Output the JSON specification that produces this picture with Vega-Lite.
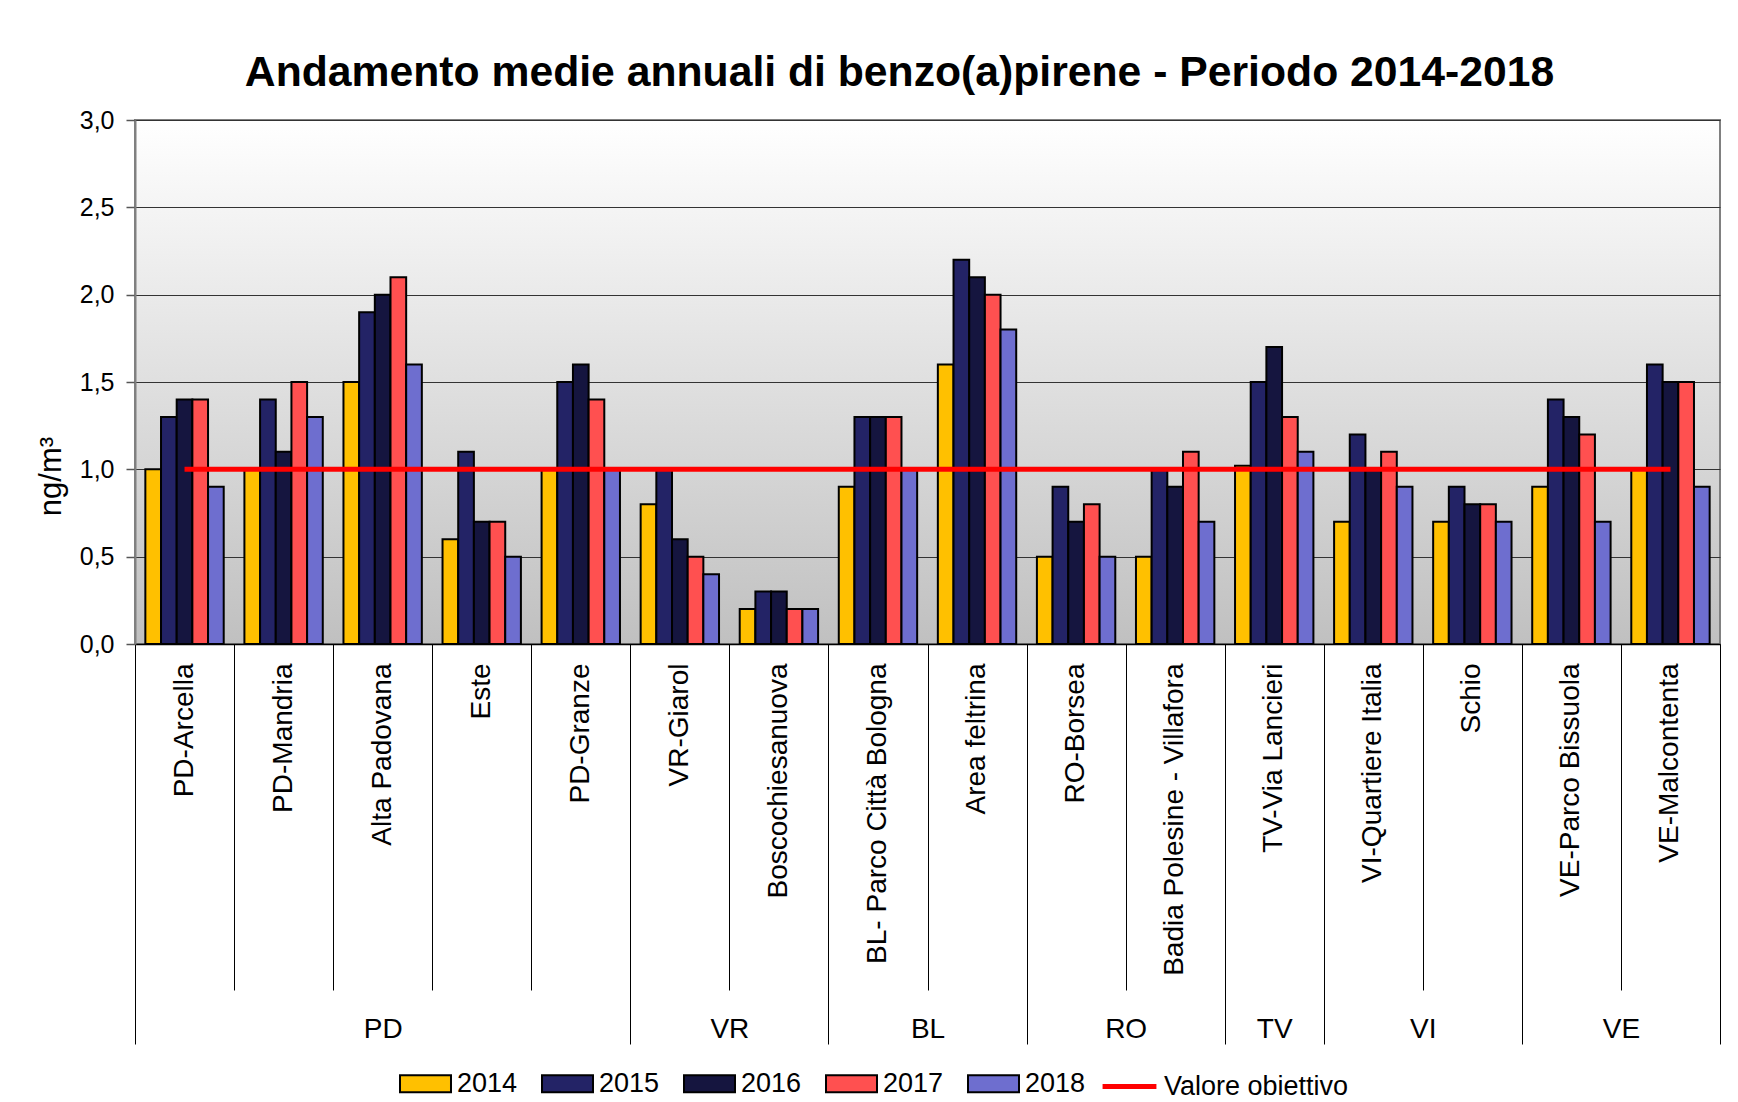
{
  "$schema": "https://vega.github.io/schema/vega-lite/v6.json",
  "width": 1585,
  "height": 524,
  "autosize": {"type": "none"},
  "padding": {"left": 135, "top": 120, "right": 18, "bottom": 458},
  "background": "white",
  "config": {
    "font": "Liberation Sans",
    "view": {
      "fill": {"gradient": "linear", "x1": 0, "y1": 0, "x2": 0, "y2": 1,
        "stops": [{"offset": 0, "color": "#FFFFFF"}, {"offset": 1, "color": "#C0C0C0"}]},
      "stroke": "#808080",
      "strokeWidth": 2
    }
  },
  "title": {
    "text": "Andamento medie annuali di benzo(a)pirene - Periodo 2014-2018",
    "font": "Liberation Sans",
    "fontSize": 42.7,
    "fontWeight": "bold",
    "color": "black",
    "anchor": "middle",
    "frame": "group",
    "offset": 13,
    "dx": -28
  },
  "datasets": {
    "misure": [
      {"stazione": "PD-Arcella", "anno": "2014", "valore": 1.0},
      {"stazione": "PD-Arcella", "anno": "2015", "valore": 1.3},
      {"stazione": "PD-Arcella", "anno": "2016", "valore": 1.4},
      {"stazione": "PD-Arcella", "anno": "2017", "valore": 1.4},
      {"stazione": "PD-Arcella", "anno": "2018", "valore": 0.9},
      {"stazione": "PD-Mandria", "anno": "2014", "valore": 1.0},
      {"stazione": "PD-Mandria", "anno": "2015", "valore": 1.4},
      {"stazione": "PD-Mandria", "anno": "2016", "valore": 1.1},
      {"stazione": "PD-Mandria", "anno": "2017", "valore": 1.5},
      {"stazione": "PD-Mandria", "anno": "2018", "valore": 1.3},
      {"stazione": "Alta Padovana", "anno": "2014", "valore": 1.5},
      {"stazione": "Alta Padovana", "anno": "2015", "valore": 1.9},
      {"stazione": "Alta Padovana", "anno": "2016", "valore": 2.0},
      {"stazione": "Alta Padovana", "anno": "2017", "valore": 2.1},
      {"stazione": "Alta Padovana", "anno": "2018", "valore": 1.6},
      {"stazione": "Este", "anno": "2014", "valore": 0.6},
      {"stazione": "Este", "anno": "2015", "valore": 1.1},
      {"stazione": "Este", "anno": "2016", "valore": 0.7},
      {"stazione": "Este", "anno": "2017", "valore": 0.7},
      {"stazione": "Este", "anno": "2018", "valore": 0.5},
      {"stazione": "PD-Granze", "anno": "2014", "valore": 1.0},
      {"stazione": "PD-Granze", "anno": "2015", "valore": 1.5},
      {"stazione": "PD-Granze", "anno": "2016", "valore": 1.6},
      {"stazione": "PD-Granze", "anno": "2017", "valore": 1.4},
      {"stazione": "PD-Granze", "anno": "2018", "valore": 1.0},
      {"stazione": "VR-Giarol", "anno": "2014", "valore": 0.8},
      {"stazione": "VR-Giarol", "anno": "2015", "valore": 1.0},
      {"stazione": "VR-Giarol", "anno": "2016", "valore": 0.6},
      {"stazione": "VR-Giarol", "anno": "2017", "valore": 0.5},
      {"stazione": "VR-Giarol", "anno": "2018", "valore": 0.4},
      {"stazione": "Boscochiesanuova", "anno": "2014", "valore": 0.2},
      {"stazione": "Boscochiesanuova", "anno": "2015", "valore": 0.3},
      {"stazione": "Boscochiesanuova", "anno": "2016", "valore": 0.3},
      {"stazione": "Boscochiesanuova", "anno": "2017", "valore": 0.2},
      {"stazione": "Boscochiesanuova", "anno": "2018", "valore": 0.2},
      {"stazione": "BL- Parco Città Bologna", "anno": "2014", "valore": 0.9},
      {"stazione": "BL- Parco Città Bologna", "anno": "2015", "valore": 1.3},
      {"stazione": "BL- Parco Città Bologna", "anno": "2016", "valore": 1.3},
      {"stazione": "BL- Parco Città Bologna", "anno": "2017", "valore": 1.3},
      {"stazione": "BL- Parco Città Bologna", "anno": "2018", "valore": 1.0},
      {"stazione": "Area feltrina", "anno": "2014", "valore": 1.6},
      {"stazione": "Area feltrina", "anno": "2015", "valore": 2.2},
      {"stazione": "Area feltrina", "anno": "2016", "valore": 2.1},
      {"stazione": "Area feltrina", "anno": "2017", "valore": 2.0},
      {"stazione": "Area feltrina", "anno": "2018", "valore": 1.8},
      {"stazione": "RO-Borsea", "anno": "2014", "valore": 0.5},
      {"stazione": "RO-Borsea", "anno": "2015", "valore": 0.9},
      {"stazione": "RO-Borsea", "anno": "2016", "valore": 0.7},
      {"stazione": "RO-Borsea", "anno": "2017", "valore": 0.8},
      {"stazione": "RO-Borsea", "anno": "2018", "valore": 0.5},
      {"stazione": "Badia Polesine - Villafora", "anno": "2014", "valore": 0.5},
      {"stazione": "Badia Polesine - Villafora", "anno": "2015", "valore": 1.0},
      {"stazione": "Badia Polesine - Villafora", "anno": "2016", "valore": 0.9},
      {"stazione": "Badia Polesine - Villafora", "anno": "2017", "valore": 1.1},
      {"stazione": "Badia Polesine - Villafora", "anno": "2018", "valore": 0.7},
      {"stazione": "TV-Via Lancieri", "anno": "2014", "valore": 1.02},
      {"stazione": "TV-Via Lancieri", "anno": "2015", "valore": 1.5},
      {"stazione": "TV-Via Lancieri", "anno": "2016", "valore": 1.7},
      {"stazione": "TV-Via Lancieri", "anno": "2017", "valore": 1.3},
      {"stazione": "TV-Via Lancieri", "anno": "2018", "valore": 1.1},
      {"stazione": "VI-Quartiere Italia", "anno": "2014", "valore": 0.7},
      {"stazione": "VI-Quartiere Italia", "anno": "2015", "valore": 1.2},
      {"stazione": "VI-Quartiere Italia", "anno": "2016", "valore": 1.0},
      {"stazione": "VI-Quartiere Italia", "anno": "2017", "valore": 1.1},
      {"stazione": "VI-Quartiere Italia", "anno": "2018", "valore": 0.9},
      {"stazione": "Schio", "anno": "2014", "valore": 0.7},
      {"stazione": "Schio", "anno": "2015", "valore": 0.9},
      {"stazione": "Schio", "anno": "2016", "valore": 0.8},
      {"stazione": "Schio", "anno": "2017", "valore": 0.8},
      {"stazione": "Schio", "anno": "2018", "valore": 0.7},
      {"stazione": "VE-Parco Bissuola", "anno": "2014", "valore": 0.9},
      {"stazione": "VE-Parco Bissuola", "anno": "2015", "valore": 1.4},
      {"stazione": "VE-Parco Bissuola", "anno": "2016", "valore": 1.3},
      {"stazione": "VE-Parco Bissuola", "anno": "2017", "valore": 1.2},
      {"stazione": "VE-Parco Bissuola", "anno": "2018", "valore": 0.7},
      {"stazione": "VE-Malcontenta", "anno": "2014", "valore": 1.0},
      {"stazione": "VE-Malcontenta", "anno": "2015", "valore": 1.6},
      {"stazione": "VE-Malcontenta", "anno": "2016", "valore": 1.5},
      {"stazione": "VE-Malcontenta", "anno": "2017", "valore": 1.5},
      {"stazione": "VE-Malcontenta", "anno": "2018", "valore": 0.9}
    ],
    "obiettivo": [
      {"stazione": "PD-Arcella", "serie": "Valore obiettivo", "valore": 1.0},
      {"stazione": "VE-Malcontenta", "serie": "Valore obiettivo", "valore": 1.0}
    ]
  },
  "layer": [
    {
      "layer": [
        {
          "data": {"name": "misure"},
          "mark": {"type": "bar", "stroke": "black", "strokeWidth": 2},
          "encoding": {
            "x": {
              "field": "stazione", "type": "nominal",
              "scale": {
                "domain": ["PD-Arcella", "PD-Mandria", "Alta Padovana", "Este", "PD-Granze", "VR-Giarol", "Boscochiesanuova", "BL- Parco Città Bologna", "Area feltrina", "RO-Borsea", "Badia Polesine - Villafora", "TV-Via Lancieri", "VI-Quartiere Italia", "Schio", "VE-Parco Bissuola", "VE-Malcontenta"],
                "paddingInner": 0, "paddingOuter": 0
              },
              "axis": {
                "orient": "bottom", "title": null, "labelAngle": -90, "labelAlign": "right", "labelBaseline": "middle",
                "labelFont": "Liberation Sans", "labelFontSize": 28, "labelColor": "black", "labelPadding": 19, "labelLimit": 500,
                "ticks": false, "domain": true, "domainColor": "black", "domainWidth": 1.5, "grid": false
              }
            },
            "xOffset": {"field": "anno", "type": "nominal", "scale": {"paddingOuter": 0.66, "paddingInner": 0}},
            "y": {
              "field": "valore", "type": "quantitative", "title": "ng/m³",
              "scale": {"domain": [0, 3], "nice": false},
              "axis": {
                "values": [0, 0.5, 1, 1.5, 2, 2.5, 3],
                "labelExpr": "replace(format(datum.value, '.1f'), '.', ',')",
                "labelFont": "Liberation Sans", "labelFontSize": 25, "labelColor": "black", "labelPadding": 12,
                "tickSize": 9, "tickColor": "#555555", "tickWidth": 1.5,
                "domainColor": "#808080", "domainWidth": 2,
                "grid": true, "gridColor": "#333333", "gridWidth": 1,
                "titleFont": "Liberation Sans", "titleFontSize": 31, "titleFontWeight": "normal", "titleColor": "black", "titlePadding": 12,
                "titleY": 356
              }
            },
            "fill": {
              "field": "anno", "type": "nominal",
              "scale": {"domain": ["2014", "2015", "2016", "2017", "2018"], "range": ["#FFC000", "#232366", "#15153F", "#FF5050", "#6E6ECF"]},
              "legend": {
                "title": null, "orient": "none", "legendX": 264, "legendY": 937, "direction": "horizontal",
                "labelFont": "Liberation Sans", "labelFontSize": 27, "labelColor": "black", "labelOffset": 5, "labelLimit": 300,
                "symbolType": "M-1,-0.33H1V0.33H-1Z", "symbolSize": 2600, "symbolStrokeColor": "black", "symbolStrokeWidth": 2,
                "columnPadding": 20, "padding": 0
              }
            }
          }
        },
        {
          "data": {"name": "obiettivo"},
          "mark": {"type": "line", "strokeWidth": 5},
          "encoding": {
            "x": {"field": "stazione", "type": "nominal", "title": null},
            "y": {"field": "valore", "type": "quantitative", "title": "ng/m³"},
            "stroke": {
              "field": "serie", "type": "nominal",
              "scale": {"domain": ["Valore obiettivo"], "range": ["#FF0000"]},
              "legend": {
                "title": null, "orient": "none", "legendX": 965, "legendY": 937, "direction": "horizontal",
                "labelFont": "Liberation Sans", "labelFontSize": 27, "labelColor": "black", "labelOffset": 5, "labelLimit": 400,
                "symbolType": "stroke", "symbolSize": 2900, "symbolStrokeWidth": 5, "padding": 0
              }
            }
          }
        }
      ]
    },
    {
      "data": {"values": [{}]},
      "mark": {"type": "point", "opacity": 0},
      "encoding": {
        "x": {"datum": 0, "type": "quantitative", "scale": {"domain": [0, 16], "nice": false, "zero": false},
          "axis": {"orient": "bottom", "title": null, "values": [1, 2, 3, 4, 6, 8, 10, 13, 15], "tickSize": 346, "tickColor": "black", "tickWidth": 1, "labels": false, "domain": false, "grid": false}}
      }
    },
    {
      "data": {"values": [{}]},
      "mark": {"type": "point", "opacity": 0},
      "encoding": {
        "x": {"datum": 0, "type": "quantitative", "scale": {"domain": [0, 16], "nice": false, "zero": false},
          "axis": {"orient": "bottom", "title": null, "values": [0, 5, 7, 9, 11, 12, 14, 16], "tickSize": 400, "tickColor": "black", "tickWidth": 1, "labels": false, "domain": false, "grid": false}}
      }
    },
    {
      "data": {"values": [{}]},
      "mark": {"type": "point", "opacity": 0},
      "encoding": {
        "x": {"datum": 0, "type": "quantitative", "scale": {"domain": [0, 16], "nice": false, "zero": false},
          "axis": {"orient": "bottom", "title": null, "values": [2.5, 6, 8, 10, 11.5, 13, 15], "ticks": false, "domain": false, "grid": false,
            "labelExpr": "datum.value == 2.5 ? 'PD' : datum.value == 6 ? 'VR' : datum.value == 8 ? 'BL' : datum.value == 10 ? 'RO' : datum.value == 11.5 ? 'TV' : datum.value == 13 ? 'VI' : 'VE'",
            "labelFont": "Liberation Sans", "labelFontSize": 28, "labelColor": "black", "labelPadding": 371, "labelBaseline": "top", "labelFlush": false, "labelOverlap": false}}
      }
    }
  ],
  "resolve": {"scale": {"x": "independent"}, "axis": {"x": "independent"}}
}
